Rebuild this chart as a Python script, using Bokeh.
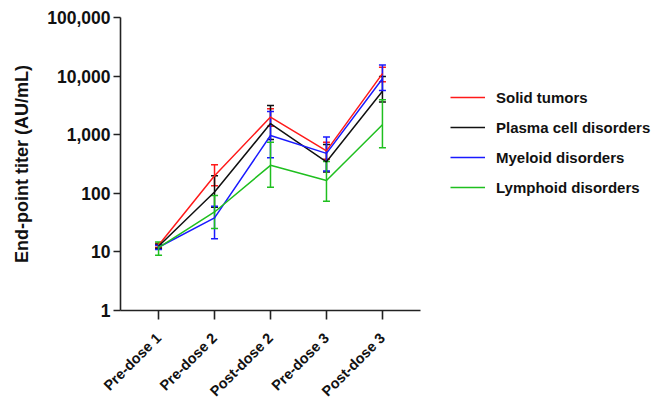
import math
from bokeh.plotting import figure
from bokeh.models import (ColumnDataSource, Range1d, FixedTicker, NumeralTickFormatter,
                          Whisker, TeeHead, Legend, LegendItem)
from bokeh.embed import file_html
from bokeh.resources import INLINE

categories = ["Pre-dose 1", "Pre-dose 2", "Post-dose 2", "Pre-dose 3", "Post-dose 3"]

solid = [13, 200, 2000, 530, 11000]
solid_lo = [12, 135, 1400, 380, 8000]
solid_hi = [14, 306, 2770, 745, 14100]

plasma = [12.5, 105, 1550, 345, 5500]
plasma_lo = [11.5, 58, 830, 230, 3600]
plasma_hi = [13.5, 200, 3160, 680, 9800]

myeloid = [12, 38, 970, 480, 9000]
myeloid_lo = [11, 16.7, 405, 240, 5700]
myeloid_hi = [13, 60, 2500, 910, 15500]

lymphoid = [11.8, 48, 300, 165, 1480]
lymphoid_lo = [8.8, 25, 127, 73, 600]
lymphoid_hi = [14.8, 92, 745, 350, 3950]

series = [
    ("Solid tumors", solid, solid_lo, solid_hi, "#ff1a1a"),
    ("Plasma cell disorders", plasma, plasma_lo, plasma_hi, "#111111"),
    ("Myeloid disorders", myeloid, myeloid_lo, myeloid_hi, "#1a1aff"),
    ("Lymphoid disorders", lymphoid, lymphoid_lo, lymphoid_hi, "#1fbf1f"),
]

FONT = "Liberation Sans"

p = figure(frame_width=300, frame_height=293, output_backend="svg", toolbar_location=None,
           y_axis_type="log", x_range=Range1d(-0.68, 4.68), y_range=Range1d(1, 100000),
           min_border_left=120, min_border_right=0, min_border_top=17, min_border_bottom=90)
p.outline_line_color = None
p.xgrid.visible = False
p.ygrid.visible = False
p.background_fill_color = "white"
p.border_fill_color = "white"

xs = list(range(len(categories)))
items = []
for name, vals, lo, hi, col in series:
    src = ColumnDataSource(dict(x=xs, y=vals, lower=lo, upper=hi))
    r = p.line("x", "y", source=src, line_color=col, line_width=1.5)
    w = Whisker(base="x", lower="lower", upper="upper", source=src, line_color=col, line_width=1.5,
                upper_head=TeeHead(size=7, line_color=col, line_width=1.5),
                lower_head=TeeHead(size=7, line_color=col, line_width=1.5))
    p.add_layout(w)
    items.append(LegendItem(label=name, renderers=[r]))

legend = Legend(items=items, location=(30, 113), padding=0, margin=0,
                border_line_color=None, background_fill_alpha=0,
                glyph_width=35, glyph_height=20, label_height=20, spacing=10,
                label_standoff=11, label_text_font=FONT, label_text_font_style="bold",
                label_text_font_size="15px", label_text_color="#111111")
p.add_layout(legend, "right")

# x axis
p.xaxis.ticker = FixedTicker(ticks=xs)
p.xaxis.major_label_overrides = {i: c for i, c in enumerate(categories)}
p.xaxis.major_label_orientation = math.pi / 4
p.xaxis.major_label_text_font = FONT
p.xaxis.major_label_text_font_style = "bold"
p.xaxis.major_label_text_font_size = "14.5px"
p.xaxis.major_label_text_color = "#111111"
p.xaxis.major_label_standoff = 16
p.xaxis.major_tick_out = 9
p.xaxis.major_tick_in = 0
p.xaxis.minor_tick_line_color = None
p.xaxis.axis_line_width = 1.6
p.xaxis.major_tick_line_width = 1.6
p.xaxis.axis_line_color = "#222222"
p.xaxis.major_tick_line_color = "#222222"

# y axis
p.yaxis.ticker = FixedTicker(ticks=[1, 10, 100, 1000, 10000, 100000])
p.yaxis.formatter = NumeralTickFormatter(format="0,0")
p.yaxis.major_label_text_font = FONT
p.yaxis.major_label_text_font_style = "bold"
p.yaxis.major_label_text_font_size = "17.5px"
p.yaxis.major_label_text_color = "#111111"
p.yaxis.major_label_standoff = 3
p.yaxis.major_tick_out = 7
p.yaxis.major_tick_in = 0
p.yaxis.minor_tick_line_color = None
p.yaxis.axis_line_width = 1.6
p.yaxis.major_tick_line_width = 1.6
p.yaxis.axis_line_color = "#222222"
p.yaxis.major_tick_line_color = "#222222"
p.yaxis.axis_label = "End-point titer (AU/mL)"
p.yaxis.axis_label_text_font = FONT
p.yaxis.axis_label_text_font_style = "bold"
p.yaxis.axis_label_text_font_size = "18px"
p.yaxis.axis_label_text_color = "#111111"
p.yaxis.axis_label_standoff = 12

open("out.html", "w").write(file_html(p, INLINE))
